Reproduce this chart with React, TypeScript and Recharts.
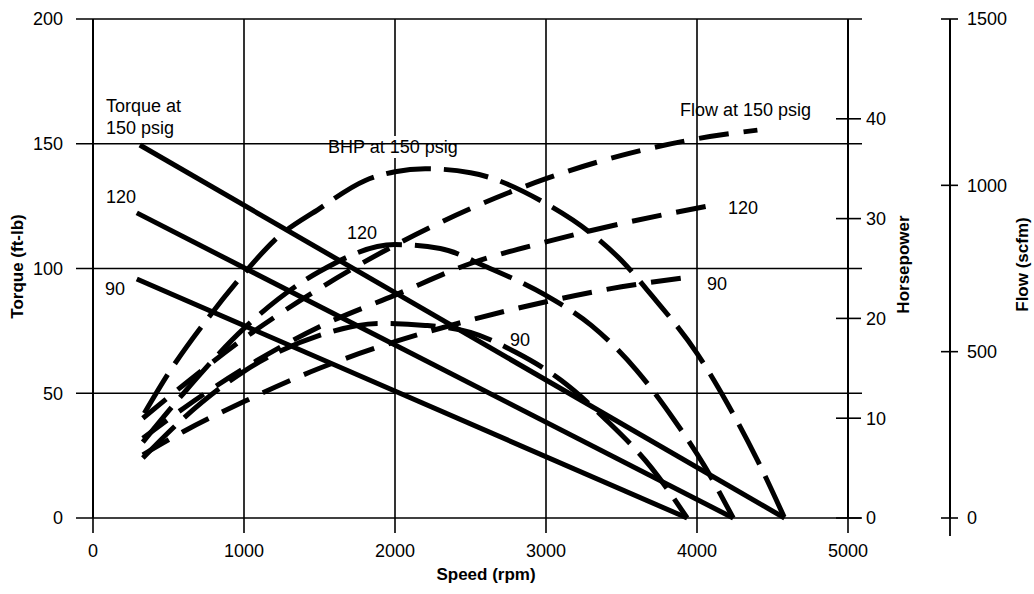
import { LineChart, Line, XAxis, YAxis, CartesianGrid, ReferenceDot } from 'recharts';

const FONT = "'Liberation Sans', Arial, Helvetica, sans-serif";
const INK = '#000';

const speedTicks = [0, 1000, 2000, 3000, 4000, 5000];
const torqueTicks = [0, 50, 100, 150, 200];
const hpTicks = [0, 10, 20, 30, 40];
const flowTicks = [0, 500, 1000, 1500];

// torque (ft-lb) vs speed
const torque150Rpm = [310, 4580];
const torque150 = [149.5, 0];
const torque120Rpm = [290, 4240];
const torque120 = [122.3, 0];
const torque90Rpm = [290, 3935];
const torque90 = [95.8, 0];

// brake horsepower
const bhp150Rpm = [340, 500, 760, 1000, 1200, 1500, 1800, 2000, 2200, 2500, 3000, 3300, 3500, 3700, 4000, 4200, 4400, 4580];
const bhp150 = [10.5, 14.5, 20, 24.5, 27.8, 31, 33.8, 34.7, 35, 34.6, 31.5, 28.5, 25.8, 22.3, 16.5, 11.5, 5.8, 0];
const bhp120Rpm = [330, 600, 1000, 1500, 2000, 2300, 2600, 3000, 3300, 3600, 3850, 4050, 4240];
const bhp120 = [7.6, 12.5, 19, 24.7, 27.4, 27, 25.2, 22.3, 19.3, 14.8, 9.8, 5.2, 0];
const bhp90Rpm = [330, 600, 1000, 1500, 1900, 2200, 2500, 2800, 3100, 3400, 3700, 3935];
const bhp90 = [6, 10, 14.7, 18.3, 19.5, 19.3, 18.6, 16.6, 13.8, 9.8, 5, 0];

// air flow (scfm)
const flow150Rpm = [330, 600, 1000, 1500, 2000, 2500, 3000, 3500, 4000, 4400];
const flow150 = [300, 400, 540, 690, 820, 930, 1020, 1090, 1140, 1166];
const flow120Rpm = [330, 600, 1000, 1500, 2000, 2500, 3000, 3500, 4100];
const flow120 = [240, 330, 450, 575, 670, 765, 830, 885, 940];
const flow90Rpm = [330, 600, 1000, 1500, 2000, 2500, 3000, 3500, 3920];
const flow90 = [190, 260, 350, 450, 530, 595, 650, 695, 722];

const HP = 'axisA';
const FLOW = 'axisB';

const pts = (rpm: number[], vals: number[]) => rpm.map((r, i) => ({ rpm: r, v: vals[i] }));

const series = [
  { id: 't150', axis: 'torque', data: pts(torque150Rpm, torque150), dash: undefined },
  { id: 't120', axis: 'torque', data: pts(torque120Rpm, torque120), dash: undefined },
  { id: 't90', axis: 'torque', data: pts(torque90Rpm, torque90), dash: undefined },
  { id: 'b150', axis: HP, data: pts(bhp150Rpm, bhp150), dash: '45 13' },
  { id: 'b120', axis: HP, data: pts(bhp120Rpm, bhp120), dash: '45 13' },
  { id: 'b90', axis: HP, data: pts(bhp90Rpm, bhp90), dash: '45 13' },
  { id: 'f150', axis: FLOW, data: pts(flow150Rpm, flow150), dash: '30 15' },
  { id: 'f120', axis: FLOW, data: pts(flow120Rpm, flow120), dash: '30 15' },
  { id: 'f90', axis: FLOW, data: pts(flow90Rpm, flow90), dash: '30 15' },
];

// curve labels, placed in speed / torque units
const notes = [
  { text: 'Torque at', rpm: 86, torque: 165, boxed: false },
  { text: '150 psig', rpm: 86, torque: 156.3, boxed: false },
  { text: '120', rpm: 86, torque: 128.7, boxed: false },
  { text: '90', rpm: 80, torque: 91.8, boxed: false },
  { text: 'BHP at 150 psig', rpm: 1556, torque: 148.7, boxed: true },
  { text: '120', rpm: 1682, torque: 114.2, boxed: false },
  { text: '90', rpm: 2762, torque: 71.3, boxed: false },
  { text: 'Flow at 150 psig', rpm: 3887, torque: 163.5, boxed: false },
  { text: '120', rpm: 4205, torque: 124.2, boxed: false },
  { text: '90', rpm: 4066, torque: 93.8, boxed: false },
];

const PLOT_RIGHT = 848;
const tickText = { fontFamily: FONT, fontSize: 18, fill: INK };

const TorqueTick = ({ x, y, payload }: any) => {
  const axisX = x + 30;
  return (
    <g>
      <line x1={axisX - 17} x2={PLOT_RIGHT + 14} y1={y} y2={y} stroke={INK} strokeWidth={1.6} />
      <text x={x} y={y} dy="0.36em" textAnchor="end" {...tickText}>{payload.value}</text>
    </g>
  );
};

const HpTick = ({ x, y, payload }: any) => {
  const axisX = x - 18;
  return (
    <g>
      <line x1={axisX - 12} x2={axisX + 13} y1={y} y2={y} stroke={INK} strokeWidth={1.6} />
      <text x={x} y={y} dy="0.36em" textAnchor="start" {...tickText}>{payload.value}</text>
    </g>
  );
};

const FlowTick = ({ x, y, payload }: any) => {
  const axisX = x - 17;
  return (
    <g>
      <line x1={axisX - 9} x2={axisX + 8} y1={y} y2={y} stroke={INK} strokeWidth={1.6} />
      {payload.value === 0 && <line x1={axisX} x2={axisX} y1={y} y2={y + 18} stroke={INK} strokeWidth={1.8} />}
      <text x={x} y={y} dy="0.36em" textAnchor="start" {...tickText}>{payload.value}</text>
    </g>
  );
};

const axisTitle = (text: string, dx: number, dy: number, rotate: boolean) => (props: any) => {
  const vb = props.viewBox;
  const cx = vb.x + dx;
  const cy = rotate ? vb.y + vb.height / 2 + dy : vb.y + dy;
  return (
    <text
      x={cx}
      y={cy}
      textAnchor="middle"
      dominantBaseline="central"
      transform={rotate ? `rotate(-90 ${cx} ${cy})` : undefined}
      fontFamily={FONT}
      fontSize={17}
      fontWeight="bold"
      fill={INK}
    >
      {text}
    </text>
  );
};

const noteLabel = (text: string, boxed: boolean) => (props: any) => {
  const vb = props.viewBox;
  const x = vb.x;
  const y = vb.y;
  return (
    <g>
      {boxed && <rect x={x - 5} y={y - 11} width={150} height={22} fill="#fff" />}
      <text x={x} y={y} dominantBaseline="central" fontFamily={FONT} fontSize={18} fill={INK}>
        {text}
      </text>
    </g>
  );
};

export default function App() {
  return (
    <div style={{ position: 'fixed', left: 0, top: 0, width: 1034, height: 594, background: '#fff' }}>
      <LineChart width={1034} height={594} margin={{ top: 19, right: 0, bottom: 0, left: 0 }}>
        <CartesianGrid yAxisId="torque" horizontal={false} stroke={INK} strokeWidth={1.6} />
        <XAxis
          dataKey="rpm"
          type="number"
          domain={[0, 5000]}
          ticks={speedTicks}
          height={76}
          axisLine={false}
          tickSize={15}
          tickMargin={11}
          tickLine={{ stroke: INK, strokeWidth: 1.6 }}
          tick={tickText}
          label={axisTitle('Speed (rpm)', 393, 56, false)}
        />
        <YAxis
          yAxisId="torque"
          orientation="left"
          width={93}
          domain={[0, 200]}
          ticks={torqueTicks}
          tickSize={17}
          tickMargin={13}
          tickLine={false}
          axisLine={{ stroke: INK, strokeWidth: 2 }}
          tick={<TorqueTick />}
          label={axisTitle('Torque (ft-lb)', 17, -2, true)}
        />
        <YAxis
          yAxisId={FLOW}
          orientation="right"
          width={84}
          domain={[0, 1500]}
          ticks={flowTicks}
          tickSize={8}
          tickMargin={9}
          tickLine={false}
          axisLine={{ stroke: INK, strokeWidth: 2 }}
          tick={<FlowTick />}
          label={axisTitle('Flow (scfm)', 72, -4, true)}
        />
        <YAxis
          yAxisId={HP}
          orientation="right"
          width={102}
          domain={[0, 50]}
          ticks={hpTicks}
          tickSize={13}
          tickMargin={5}
          tickLine={false}
          axisLine={{ stroke: INK, strokeWidth: 2 }}
          tick={<HpTick />}
          label={axisTitle('Horsepower', 55, -4, true)}
        />
        {series.map((s) => (
          <Line
            key={s.id}
            data={s.data}
            dataKey="v"
            yAxisId={s.axis}
            type="monotone"
            stroke={INK}
            strokeWidth={5}
            strokeDasharray={s.dash}
            dot={false}
            activeDot={false}
            isAnimationActive={false}
          />
        ))}
        {notes.map((n, i) => (
          <ReferenceDot
            key={i}
            x={n.rpm}
            y={n.torque}
            yAxisId="torque"
            r={0}
            fill="none"
            stroke="none"
            label={noteLabel(n.text, n.boxed)}
          />
        ))}
      </LineChart>
    </div>
  );
}
